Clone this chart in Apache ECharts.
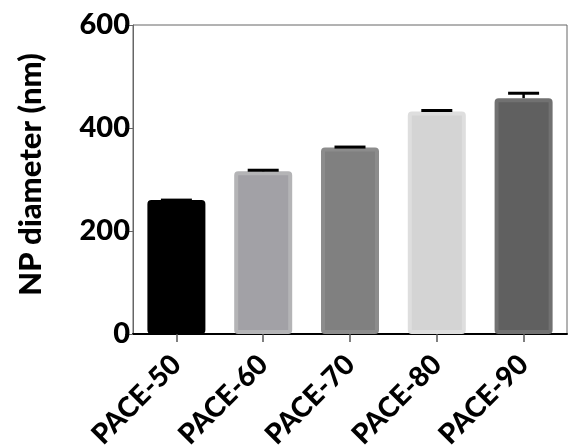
<!DOCTYPE html>
<html>
<head>
<meta charset="utf-8">
<script src="https://cdn.jsdelivr.net/npm/echarts@6/dist/echarts.min.js"></script>
<style>html,body{margin:0;padding:0;background:#fff}#c{width:568px;height:448px}</style>
</head>
<body>
<div id="c"></div>
<script>
const categories = ['PACE-50', 'PACE-60', 'PACE-70', 'PACE-80', 'PACE-90'];
const values = [260, 316, 362, 432, 458];
const errors = [0, 2, 1, 2, 9.5];
const fillColors = ['#000000', '#a2a1a6', '#808080', '#d4d4d4', '#606060'];
const borderColors = ['#000000', '#b4b4b6', '#8c8c8c', '#dedede', '#717171'];
const yTicks = [0, 200, 400, 600];

const font = 'Lato, "Open Sans", sans-serif';
const chart = echarts.init(document.getElementById('c'), null, {renderer: 'canvas'});
chart.setOption({
  animation: false,
  grid: {left: 133, right: 1, top: 25, bottom: 114, show: true, borderColor: '#666', borderWidth: 1, containLabel: false, outerBoundsMode: 'none'},
  xAxis: {
    type: 'category',
    data: categories,
    axisLine: {lineStyle: {color: '#000', width: 2}},
    axisTick: {show: true, alignWithLabel: true, length: 8, lineStyle: {color: '#555', width: 1.5}},
    axisLabel: {rotate: 45, fontFamily: font, fontWeight: 900, fontSize: 28, color: '#000', margin: 26, interval: 0}
  },
  yAxis: {
    type: 'value',
    min: yTicks[0], max: yTicks[yTicks.length - 1], interval: 200,
    name: 'NP diameter (nm)',
    nameLocation: 'middle',
    nameGap: 87,
    nameTextStyle: {fontFamily: font, fontWeight: 900, fontSize: 31, color: '#000', padding: [0, 0, 0, 10]},
    axisLine: {show: true, lineStyle: {color: '#666', width: 1}},
    axisTick: {show: true, length: 8, lineStyle: {color: '#666', width: 1}},
    splitLine: {show: false},
    axisLabel: {fontFamily: font, fontWeight: 900, fontSize: 29, color: '#000', margin: 3}
  },
  series: [
    {
      type: 'bar',
      barWidth: 58,
      data: values.map((v, i) => ({
        value: v,
        itemStyle: {color: fillColors[i], borderColor: borderColors[i], borderWidth: 4, borderRadius: 2}
      }))
    },
    {
      type: 'custom',
      z: 10,
      data: values.map((v, i) => [i, v, errors[i]]),
      renderItem: function (params, api) {
        const x = api.value(0), v = api.value(1), e = api.value(2);
        const hi = api.coord([x, v + e]);
        const lo = api.coord([x, v]);
        const half = 15.5;
        return {
          type: 'group',
          children: [
            {type: 'line', shape: {x1: hi[0], y1: hi[1], x2: lo[0], y2: lo[1]}, style: {stroke: '#000', lineWidth: 2.5}},
            {type: 'line', shape: {x1: hi[0] - half, y1: hi[1], x2: hi[0] + half, y2: hi[1]}, style: {stroke: '#000', lineWidth: 3}}
          ]
        };
      }
    }
  ]
});
</script>
</body>
</html>
